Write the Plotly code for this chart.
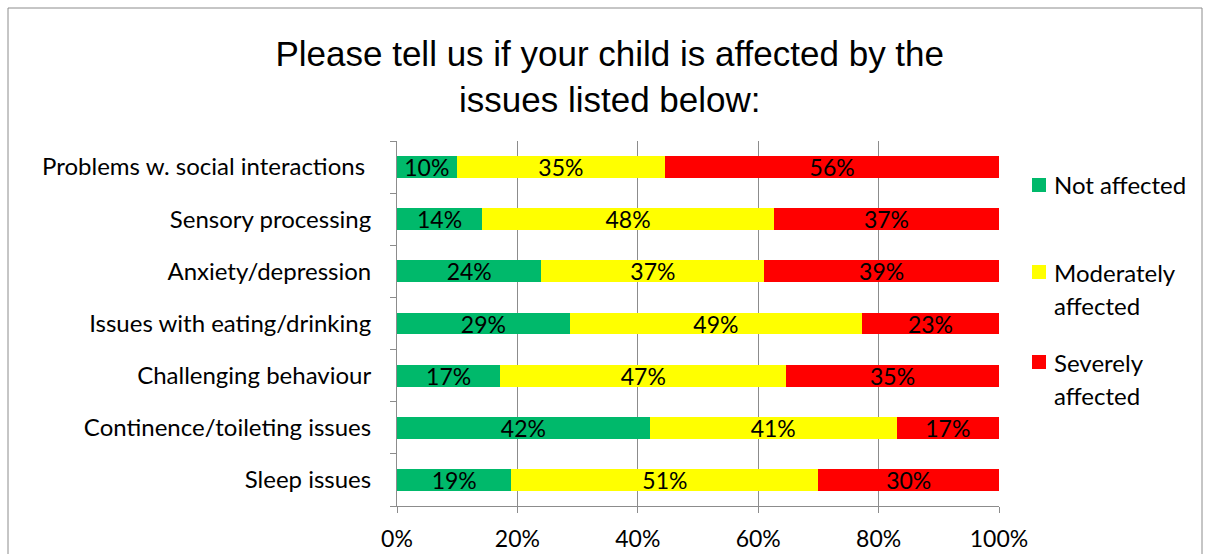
import plotly.graph_objects as go

# Survey responses (percent of respondents per issue)
categories = [
    "Problems w. social interactions ",
    "Sensory processing",
    "Anxiety/depression",
    "Issues with eating/drinking",
    "Challenging behaviour",
    "Continence/toileting issues",
    "Sleep issues",
]
not_affected = [10, 14, 24, 29, 17, 42, 19]
moderately_affected = [35, 48, 37, 49, 47, 41, 51]
severely_affected = [56, 37, 39, 23, 35, 17, 30]

series_names = ["Not affected", "Moderately affected", "Severely affected"]
series_values = [not_affected, moderately_affected, severely_affected]
series_colors = ["#00B96B", "#FFFF00", "#FF0000"]

LABEL_FONT = "Lato, 'Open Sans', sans-serif"
GRID = "#8C8C8C"

# Plot-area geometry in pixels (used to convert frame / key positions to paper units)
W, H = 1205, 554
L, R, T, B = 397, 999, 141, 506


def px_x(x):
    return (x - L) / (R - L)


def px_y(y):
    return (B - y) / (B - T)


fig = go.Figure()
for name, vals, color in zip(series_names, series_values, series_colors):
    fig.add_trace(go.Bar(
        y=categories,
        x=vals,
        name=name,
        orientation="h",
        marker=dict(color=color, line=dict(width=0)),
        text=vals,
        texttemplate="%{text}%",
        textposition="inside",
        insidetextanchor="middle",
        constraintext="none",
        textangle=0,
        textfont=dict(family=LABEL_FONT, size=23, color="black"),
        width=0.42,
        showlegend=False,
    ))

fig.update_layout(
    barmode="stack",
    barnorm="percent",
    width=W,
    height=H,
    margin=dict(l=L, r=W - R, t=T, b=H - B, autoexpand=False),
    paper_bgcolor="white",
    plot_bgcolor="white",
    title=dict(
        text="Please tell us if your child is affected by the<br>issues listed below:",
        x=0.506, xanchor="center",
        y=1 - 66 / H, yanchor="middle", yref="container",
        font=dict(family="Liberation Sans, Arial, sans-serif", size=35, color="black"),
        automargin=False,
    ),
    font=dict(family=LABEL_FONT, size=23, color="black"),
    showlegend=False,
)

fig.update_xaxes(
    range=[0, 100],
    tickvals=[0, 20, 40, 60, 80, 100],
    ticktext=["0%", "20%", "40%", "60%", "80%", "100%"],
    showgrid=True, gridcolor=GRID, gridwidth=1,
    showline=True, linecolor=GRID, linewidth=1,
    ticks="outside", ticklen=6, tickcolor=GRID,
    ticklabelstandoff=6,
    tickfont=dict(family=LABEL_FONT, size=23, color="black"),
    zeroline=False,
    fixedrange=True,
    automargin=False,
)
fig.update_yaxes(
    categoryorder="array",
    categoryarray=categories[::-1],
    showline=True, linecolor=GRID, linewidth=1,
    ticks="outside", ticklen=6, tickcolor=GRID,
    tickson="boundaries",
    ticklabelstandoff=20,
    tickfont=dict(family=LABEL_FONT, size=24, color="black"),
    showgrid=False,
    fixedrange=True,
    automargin=False,
)

# Outer chart frame
fig.add_shape(
    type="rect", xref="paper", yref="paper",
    x0=px_x(8), x1=px_x(1202), y0=px_y(600), y1=px_y(8),
    line=dict(color=GRID, width=1), fillcolor="rgba(0,0,0,0)",
    layer="below",
)

# Key on the right: coloured square + series name, wrapped line by line
key_rows = [
    (["Not affected"], 185),
    (["Moderately", "affected"], 272),
    (["Severely", "affected"], 362),
]
LINE_GAP = 33
for (lines, y_first), color in zip(key_rows, series_colors):
    fig.add_shape(
        type="rect", xref="paper", yref="paper",
        x0=px_x(1032), x1=px_x(1046),
        y0=px_y(y_first + 7), y1=px_y(y_first - 7),
        line=dict(width=0), fillcolor=color,
    )
    for k, line in enumerate(lines):
        fig.add_annotation(
            xref="paper", yref="paper",
            x=px_x(1052), y=px_y(y_first + k * LINE_GAP),
            xanchor="left", yanchor="middle",
            text=line, showarrow=False, align="left",
            font=dict(family=LABEL_FONT, size=24, color="black"),
        )

fig.write_html("out.html")
